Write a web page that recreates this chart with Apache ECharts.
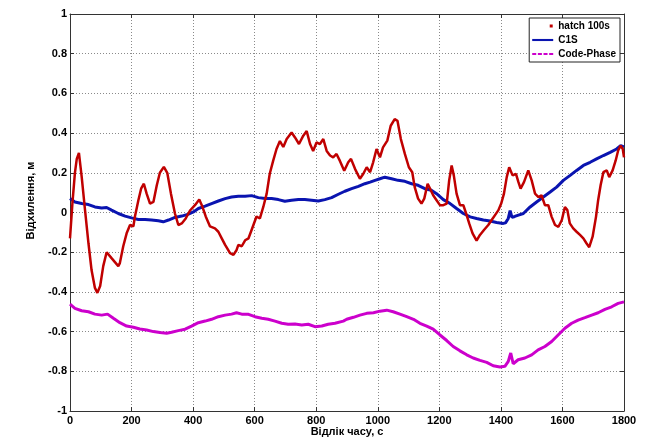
<!DOCTYPE html>
<html>
<head>
<meta charset="utf-8">
<script src="https://cdn.jsdelivr.net/npm/echarts@6/dist/echarts.min.js"></script>
<style>
html,body{margin:0;padding:0;background:#fff;}
#chart{width:651px;height:439px;}
</style>
</head>
<body>
<div id="chart"></div>
<script>
// ---- Data ----
const seriesNames = ['hatch 100s', 'C1S', 'Code-Phase'];
const xTicks = [0, 200, 400, 600, 800, 1000, 1200, 1400, 1600, 1800];
const yTicks = [-1, -0.8, -0.6, -0.4, -0.2, 0, 0.2, 0.4, 0.6, 0.8, 1];

const hatchT = [0,8,16,22,29,38,49,60,70,81,89,98,108,119,125,135,146,157,162,173,184,195,206,211,222,231,240,249,260,271,282,292,305,316,328,341,352,363,376,390,406,420,430,441,455,471,482,493,504,520,531,541,547,558,569,580,590,606,617,628,639,649,660,671,682,693,704,720,731,744,758,769,780,790,801,812,823,834,845,855,866,877,891,904,913,926,942,953,964,975,985,996,1007,1017,1031,1042,1055,1064,1075,1088,1101,1112,1120,1131,1142,1151,1162,1173,1180,1191,1202,1213,1224,1232,1240,1247,1256,1267,1278,1287,1297,1308,1321,1332,1345,1359,1370,1381,1392,1401,1410,1419,1427,1438,1449,1457,1464,1475,1489,1500,1511,1522,1532,1543,1554,1565,1576,1587,1598,1608,1616,1624,1635,1646,1657,1668,1678,1687,1698,1709,1716,1724,1733,1744,1752,1763,1773,1781,1789,1796,1800];
const hatchV = [-0.13,0.05,0.2,0.27,0.30,0.18,0.01,-0.155,-0.29,-0.38,-0.405,-0.37,-0.27,-0.2,-0.19,-0.23,-0.25,-0.27,-0.255,-0.17,-0.105,-0.063,-0.07,-0.02,0.06,0.12,0.145,0.095,0.045,0.053,0.137,0.2,0.23,0.2,0.095,-0.005,-0.063,-0.055,-0.03,0.01,0.037,0.065,0.03,-0.02,-0.07,-0.08,-0.097,-0.13,-0.163,-0.205,-0.213,-0.19,-0.163,-0.17,-0.14,-0.13,-0.088,-0.02,-0.03,0.028,0.095,0.195,0.26,0.32,0.36,0.33,0.37,0.403,0.378,0.345,0.387,0.41,0.345,0.31,0.353,0.345,0.37,0.31,0.287,0.278,0.295,0.26,0.21,0.253,0.27,0.22,0.17,0.195,0.228,0.203,0.253,0.32,0.278,0.328,0.362,0.437,0.47,0.462,0.37,0.295,0.228,0.203,0.128,0.07,0.045,0.07,0.145,0.11,0.087,0.062,0.037,0.037,0.045,0.162,0.237,0.187,0.095,0.037,0.037,-0.005,-0.055,-0.105,-0.142,-0.113,-0.088,-0.063,-0.038,-0.013,0.012,0.045,0.095,0.178,0.228,0.187,0.195,0.153,0.12,0.153,0.212,0.162,0.095,0.078,0.087,0.037,0.037,-0.022,-0.063,-0.072,-0.038,0.028,0.012,-0.055,-0.08,-0.097,-0.113,-0.13,-0.155,-0.175,-0.122,-0.022,0.062,0.137,0.203,0.212,0.178,0.212,0.262,0.312,0.337,0.32,0.278];

const c1sT = [0,16,38,60,81,103,119,135,157,179,200,222,244,265,287,303,320,341,363,385,401,417,439,460,482,504,525,547,569,590,612,634,655,677,698,720,742,763,785,807,828,850,872,893,915,937,958,975,991,1007,1023,1045,1066,1088,1110,1131,1153,1174,1191,1213,1235,1256,1278,1300,1321,1343,1365,1386,1408,1415,1424,1430,1436,1445,1457,1473,1495,1516,1538,1560,1581,1603,1625,1646,1668,1690,1711,1733,1755,1776,1789,1800];
const c1sV = [0.07,0.053,0.045,0.04,0.028,0.023,0.025,0.012,-0.005,-0.018,-0.027,-0.035,-0.035,-0.038,-0.042,-0.047,-0.038,-0.025,-0.018,-0.008,0.003,0.02,0.032,0.045,0.058,0.07,0.078,0.082,0.082,0.085,0.075,0.07,0.07,0.065,0.057,0.062,0.065,0.065,0.062,0.058,0.065,0.075,0.092,0.107,0.12,0.132,0.145,0.153,0.162,0.17,0.178,0.17,0.162,0.157,0.145,0.137,0.12,0.112,0.095,0.065,0.045,0.02,-0.005,-0.022,-0.03,-0.038,-0.043,-0.05,-0.055,-0.052,-0.03,0.01,-0.025,-0.02,-0.013,-0.005,0.028,0.053,0.078,0.103,0.128,0.162,0.187,0.212,0.237,0.253,0.27,0.287,0.303,0.32,0.337,0.33];

const codeT = [0,16,38,60,81,103,122,141,162,184,206,227,249,271,292,314,330,352,374,395,417,439,460,482,504,525,541,558,580,601,623,644,666,688,709,731,753,774,796,818,839,861,888,899,921,942,964,986,1007,1029,1050,1072,1094,1116,1137,1159,1180,1202,1224,1245,1267,1289,1310,1332,1354,1375,1397,1413,1424,1432,1440,1456,1478,1500,1521,1543,1565,1586,1608,1630,1651,1673,1695,1716,1738,1760,1781,1800];
const codeV = [-0.462,-0.483,-0.495,-0.5,-0.512,-0.517,-0.512,-0.533,-0.555,-0.572,-0.578,-0.587,-0.592,-0.6,-0.605,-0.608,-0.603,-0.595,-0.588,-0.572,-0.555,-0.547,-0.538,-0.525,-0.517,-0.512,-0.505,-0.512,-0.513,-0.525,-0.533,-0.538,-0.547,-0.558,-0.563,-0.562,-0.567,-0.563,-0.575,-0.572,-0.563,-0.558,-0.547,-0.538,-0.528,-0.517,-0.508,-0.505,-0.497,-0.492,-0.5,-0.512,-0.525,-0.538,-0.558,-0.572,-0.588,-0.617,-0.645,-0.675,-0.697,-0.717,-0.733,-0.745,-0.755,-0.772,-0.778,-0.775,-0.75,-0.708,-0.762,-0.742,-0.733,-0.717,-0.692,-0.675,-0.65,-0.617,-0.583,-0.558,-0.542,-0.53,-0.517,-0.505,-0.488,-0.475,-0.458,-0.45];

const xName = 'Відлік часу, с';
const yName = 'Відхилення, м';

function pairs(t, v) { return t.map((x, i) => [x, v[i]]); }

const FONT = "'Liberation Sans', Arial, sans-serif";
const chart = echarts.init(document.getElementById('chart'));
const axisCommon = {
  axisLine: { show: true, onZero: false, lineStyle: { color: '#333', width: 1 } },
  axisTick: { show: true, inside: true, length: 4, lineStyle: { color: '#333' } }
};
const DOT_ICON = 'path://M0,1.5L0,1.5ZM17,0H20V3H17Z';
const LINE_ICON = 'path://M0,0H24V2.4H0Z';
const DASH_ICON = 'path://M0,0H5V2.4H0Z M7,0H12V2.4H7Z M14,0H19V2.4H14Z M21,0H26V2.4H21Z';
chart.setOption({
  animation: false,
  backgroundColor: '#fff',
  grid: { left: 70, right: 27, top: 14, bottom: 28, containLabel: false, outerBoundsMode: 'none' },
  legend: {
    orient: 'vertical',
    right: 31, top: 18,
    backgroundColor: '#fff',
    borderColor: '#222', borderWidth: 1,
    padding: [2, 4, 2, 3],
    itemGap: 2,
    itemWidth: 21, itemHeight: 3,
    textStyle: { fontFamily: FONT, fontSize: 10, fontWeight: 'bold', color: '#000', lineHeight: 12 },
    data: [
      { name: seriesNames[0], icon: DOT_ICON },
      { name: seriesNames[1], icon: LINE_ICON },
      { name: seriesNames[2], icon: DASH_ICON }
    ]
  },
  xAxis: [{
    type: 'value', min: 0, max: 1800, interval: 200,
    name: xName, nameLocation: 'middle', nameGap: 15, nameMoveOverlap: false,
    nameTextStyle: { fontFamily: FONT, fontSize: 11, fontWeight: 'bold', color: '#000' },
    axisLabel: { fontFamily: FONT, fontSize: 11, fontWeight: 'bold', color: '#000', margin: 4,
      formatter: v => String(v) },
    splitLine: { show: true, lineStyle: { color: '#8a8a8a', type: [1, 2], width: 1 } },
    ...axisCommon
  }, {
    type: 'value', min: 0, max: 1800, interval: 200, position: 'top',
    axisLabel: { show: false }, splitLine: { show: false },
    ...axisCommon
  }],
  yAxis: [{
    type: 'value', min: -1, max: 1, interval: 0.2,
    name: yName, nameLocation: 'middle', nameGap: 34, nameRotate: 90, nameMoveOverlap: false,
    nameTextStyle: { fontFamily: FONT, fontSize: 11, fontWeight: 'bold', color: '#000', padding: [0, 0, 0, 24] },
    axisLabel: { fontFamily: FONT, fontSize: 11, fontWeight: 'bold', color: '#000', margin: 3,
      formatter: v => String(Math.round(v * 10) / 10) },
    splitLine: { show: true, lineStyle: { color: '#8a8a8a', type: [1, 2], width: 1 } },
    ...axisCommon
  }, {
    type: 'value', min: -1, max: 1, interval: 0.2, position: 'right',
    axisLabel: { show: false }, splitLine: { show: false },
    ...axisCommon
  }],
  series: [
    {
      name: seriesNames[0], type: 'line', data: pairs(hatchT, hatchV),
      symbol: 'none', color: '#c00000',
      lineStyle: { color: '#c00000', width: 2.5 }, z: 3
    },
    {
      name: seriesNames[1], type: 'line', data: pairs(c1sT, c1sV),
      symbol: 'none', color: '#0a14b0',
      lineStyle: { color: '#0a14b0', width: 3 }, z: 2
    },
    {
      name: seriesNames[2], type: 'line', data: pairs(codeT, codeV),
      symbol: 'none', color: '#cc00cc',
      lineStyle: { color: '#cc00cc', width: 3 }, z: 2
    }
  ]
});
</script>
</body>
</html>
